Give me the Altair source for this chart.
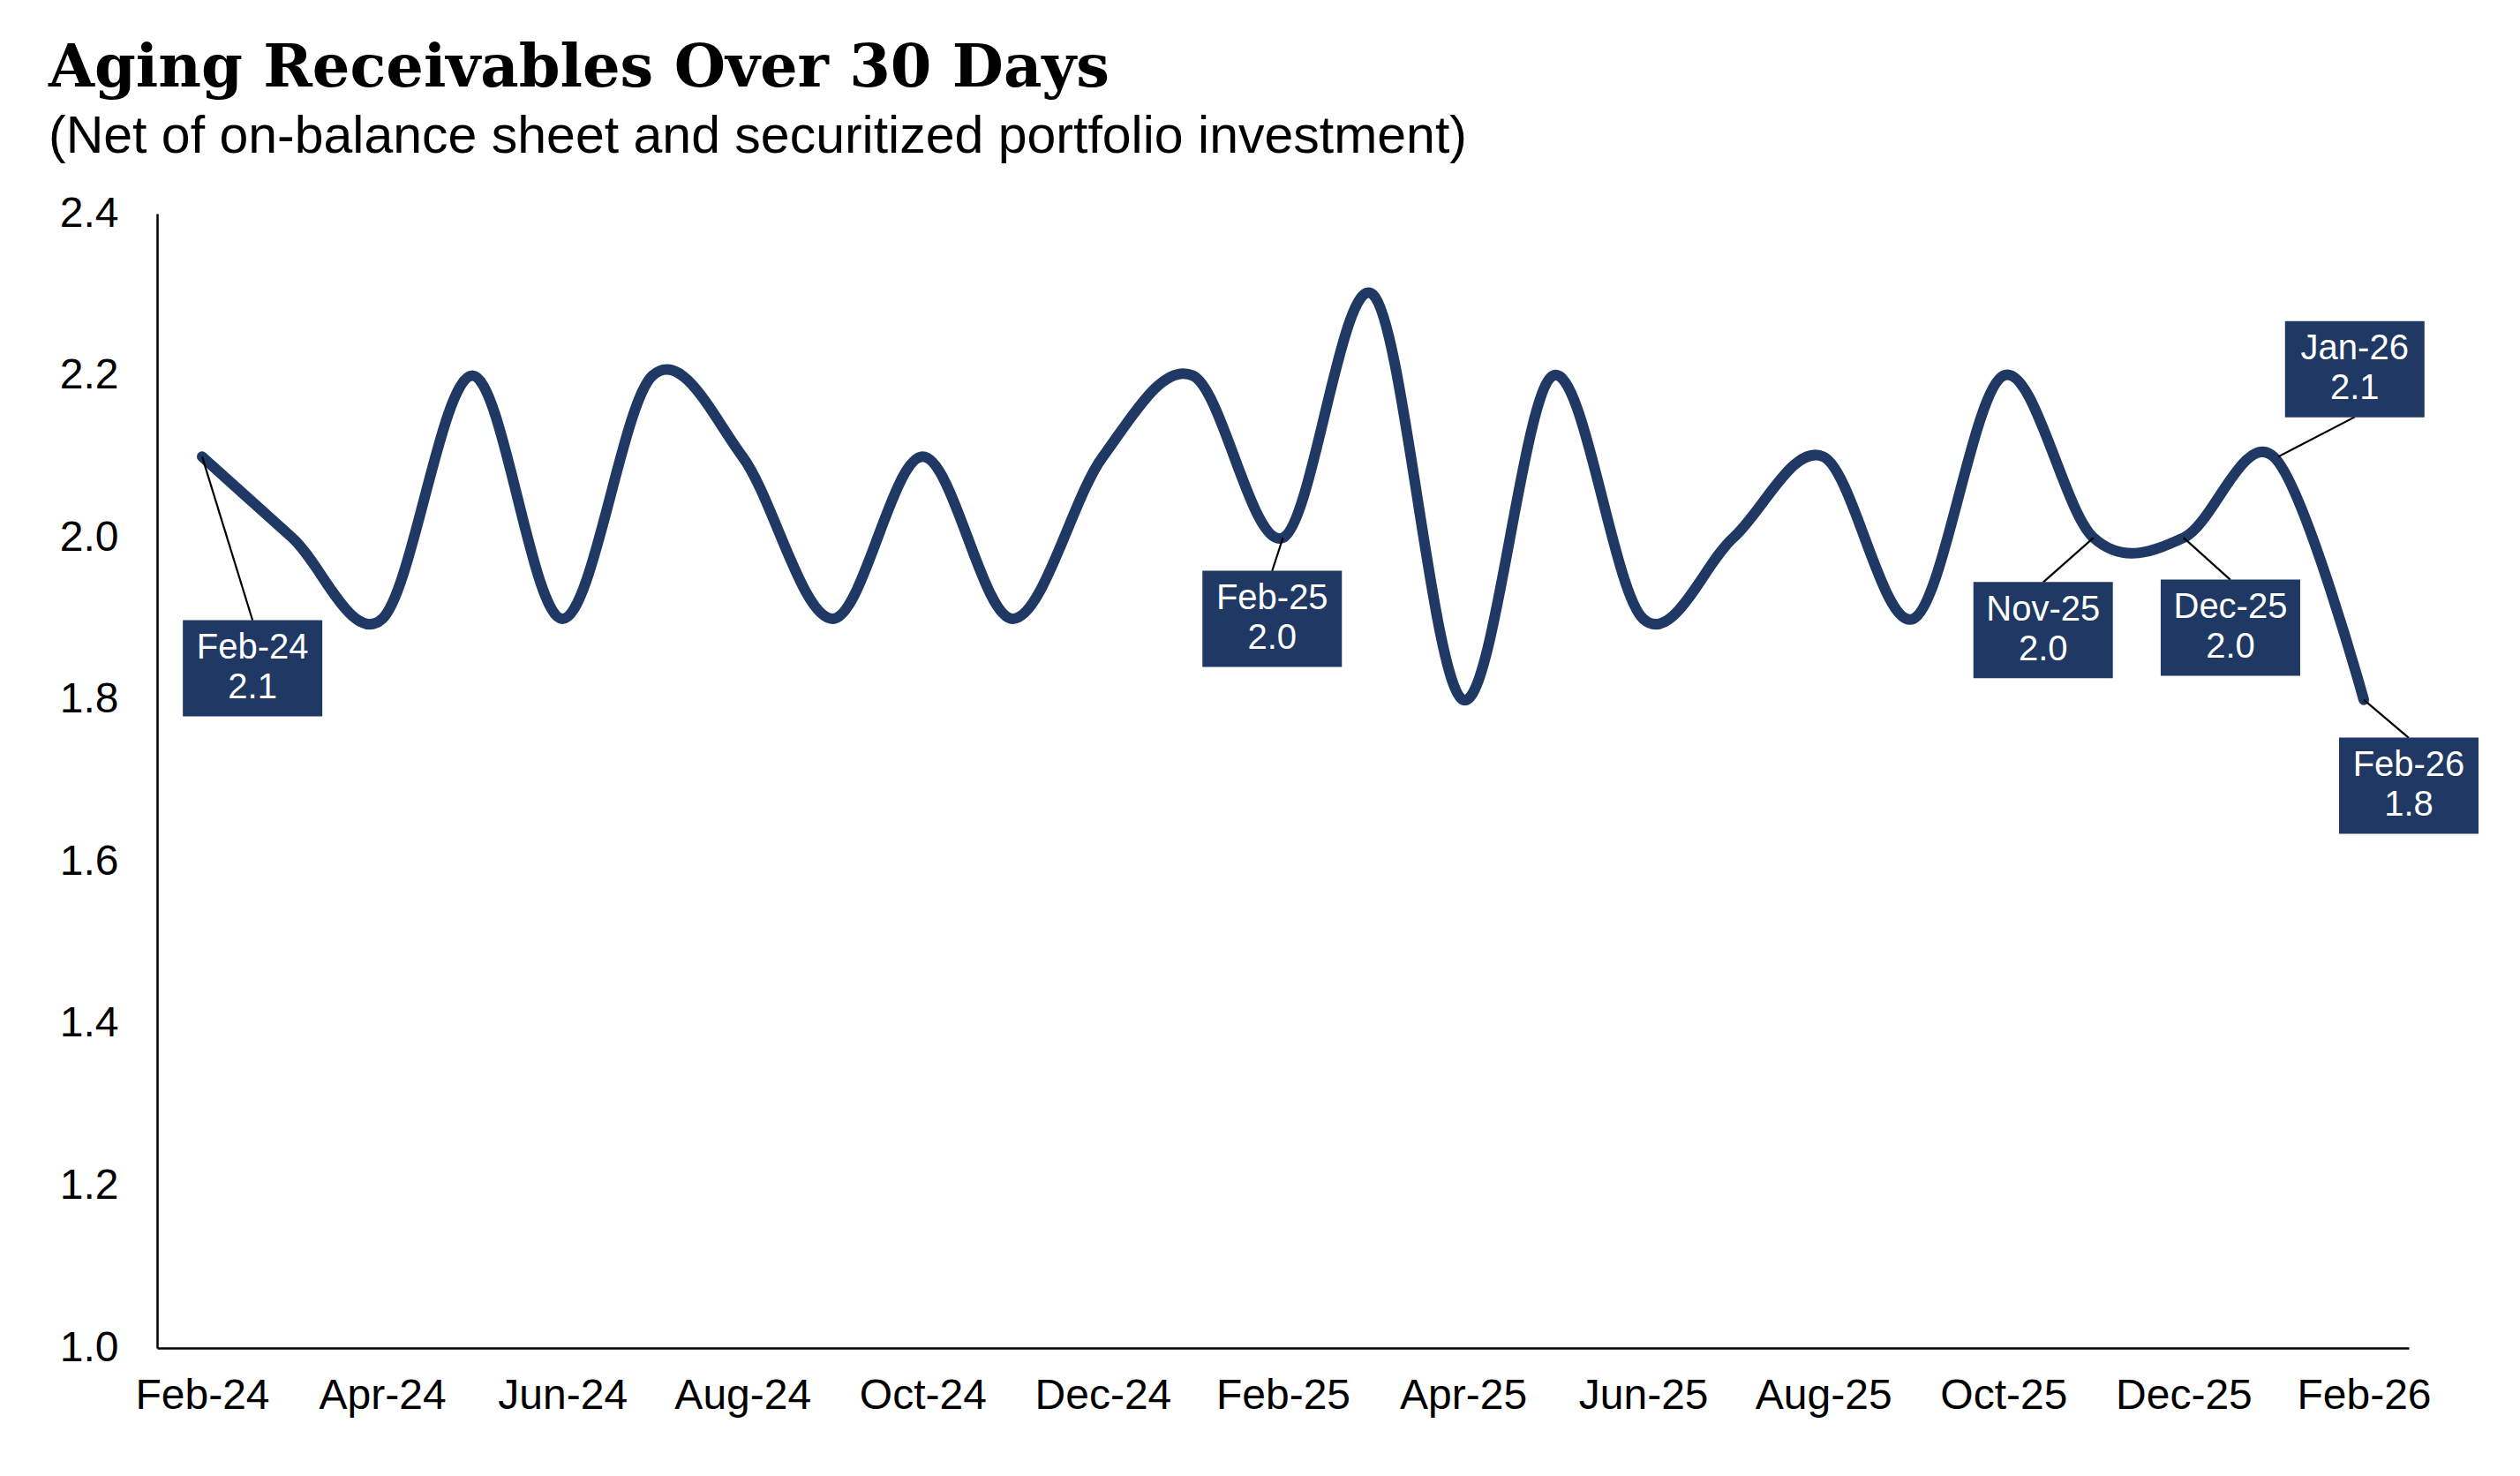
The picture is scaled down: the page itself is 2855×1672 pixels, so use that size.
import altair as alt
import pandas as pd

# ---- data ----
months = ["Feb-24", "Mar-24", "Apr-24", "May-24", "Jun-24", "Jul-24", "Aug-24",
          "Sep-24", "Oct-24", "Nov-24", "Dec-24", "Jan-25", "Feb-25", "Mar-25",
          "Apr-25", "May-25", "Jun-25", "Jul-25", "Aug-25", "Sep-25", "Oct-25",
          "Nov-25", "Dec-25", "Jan-26", "Feb-26"]
values = [2.1, 2.0, 1.9, 2.2, 1.9, 2.2, 2.1, 1.9, 2.1, 1.9, 2.1, 2.2, 2.0, 2.3,
          1.8, 2.2, 1.9, 2.0, 2.1, 1.9, 2.2, 2.0, 2.0, 2.1, 1.8]

# annotated points (index into months) and where their label boxes sit
ann_idx = [0, 12, 21, 22, 23, 24]
ann_box_x = [0.56, 11.88, 20.44, 22.52, 23.90, 24.50]
ann_box_y = [1.839, 1.900, 1.886, 1.889, 2.208, 1.694]
ann_edge_y = [1.898, 1.959, 1.945, 1.948, 2.149, 1.753]
ann_start_x = [0, 12, 21, 22, 23.05, 24]

y_ticks = [1.0, 1.2, 1.4, 1.6, 1.8, 2.0, 2.2, 2.4]
x_ticks = list(range(0, 25, 2))

NAVY = "#1F3864"
FONT = "Liberation Sans"

line_df = pd.DataFrame({"x": list(range(len(months))), "y": values, "month": months})
ann_df = pd.DataFrame({
    "x": ann_start_x,
    "y": [values[i] for i in ann_idx],
    "bx": ann_box_x,
    "by": ann_box_y,
    "ey": ann_edge_y,
    "label": [f"{months[i]}\n{values[i]:.1f}" for i in ann_idx],
})

label_array = "[" + ",".join(f"'{m}'" for m in months) + "]"

xscale = alt.Scale(domain=[-0.5, 24.5], nice=False, zero=False)
yscale = alt.Scale(domain=[1.0, 2.4], nice=False, zero=False)
xaxis = alt.Axis(values=x_ticks, labelExpr=label_array + "[datum.value]", title=None,
                 ticks=False, grid=False, domainColor="black", domainWidth=2.5,
                 labelFont=FONT, labelFontSize=48, labelColor="black",
                 labelPadding=30, labelAngle=0)
yaxis = alt.Axis(values=y_ticks, format=".1f", title=None, ticks=False, grid=False,
                 domainColor="black", domainWidth=2.5, labelFont=FONT,
                 labelFontSize=48, labelColor="black", labelPadding=44)


def X(f):
    return alt.X(f, type="quantitative", scale=xscale, axis=xaxis)


def Y(f):
    return alt.Y(f, type="quantitative", scale=yscale, axis=yaxis)


line = alt.Chart(line_df).mark_line(
    interpolate="cardinal", strokeWidth=12, color=NAVY,
    strokeCap="round", strokeJoin="round", clip=False
).encode(x=X("x"), y=Y("y"))

leaders = alt.Chart(ann_df).mark_rule(color="black", strokeWidth=2.2).encode(
    x=X("x"), y=Y("y"), x2="bx", y2="ey")

boxes = alt.Chart(ann_df).mark_point(
    shape="M-1,-0.69L1,-0.69L1,0.69L-1,0.69Z", size=158 ** 2,
    filled=True, opacity=1, color=NAVY, strokeWidth=0, clip=False
).encode(x=X("bx"), y=Y("by"))

texts = alt.Chart(ann_df).mark_text(
    lineBreak="\n", font=FONT, fontSize=40, color="white", align="center",
    baseline="middle", lineHeight=45, dy=-23, clip=False
).encode(x=X("bx"), y=Y("by"), text="label:N")

chart = alt.layer(line, leaders, boxes, texts).properties(
    width=2551, height=1285,
    autosize=alt.AutoSizeParams(type="none"),
    padding={"left": 170, "top": 234, "right": 110, "bottom": 120},
    title=alt.TitleParams(
        text="Aging Receivables Over 30 Days",
        subtitle="(Net of on-balance sheet and securitized portfolio investment)",
        anchor="start", frame="group", dx=-123, offset=32,
        font="DejaVu Serif", fontWeight="bold", fontSize=67, color="black",
        subtitleFont=FONT, subtitleFontSize=59, subtitleColor="black",
        subtitlePadding=14,
    ),
).configure_view(stroke=None)

chart.save("out.html", embed_options={"renderer": "svg", "actions": False})
